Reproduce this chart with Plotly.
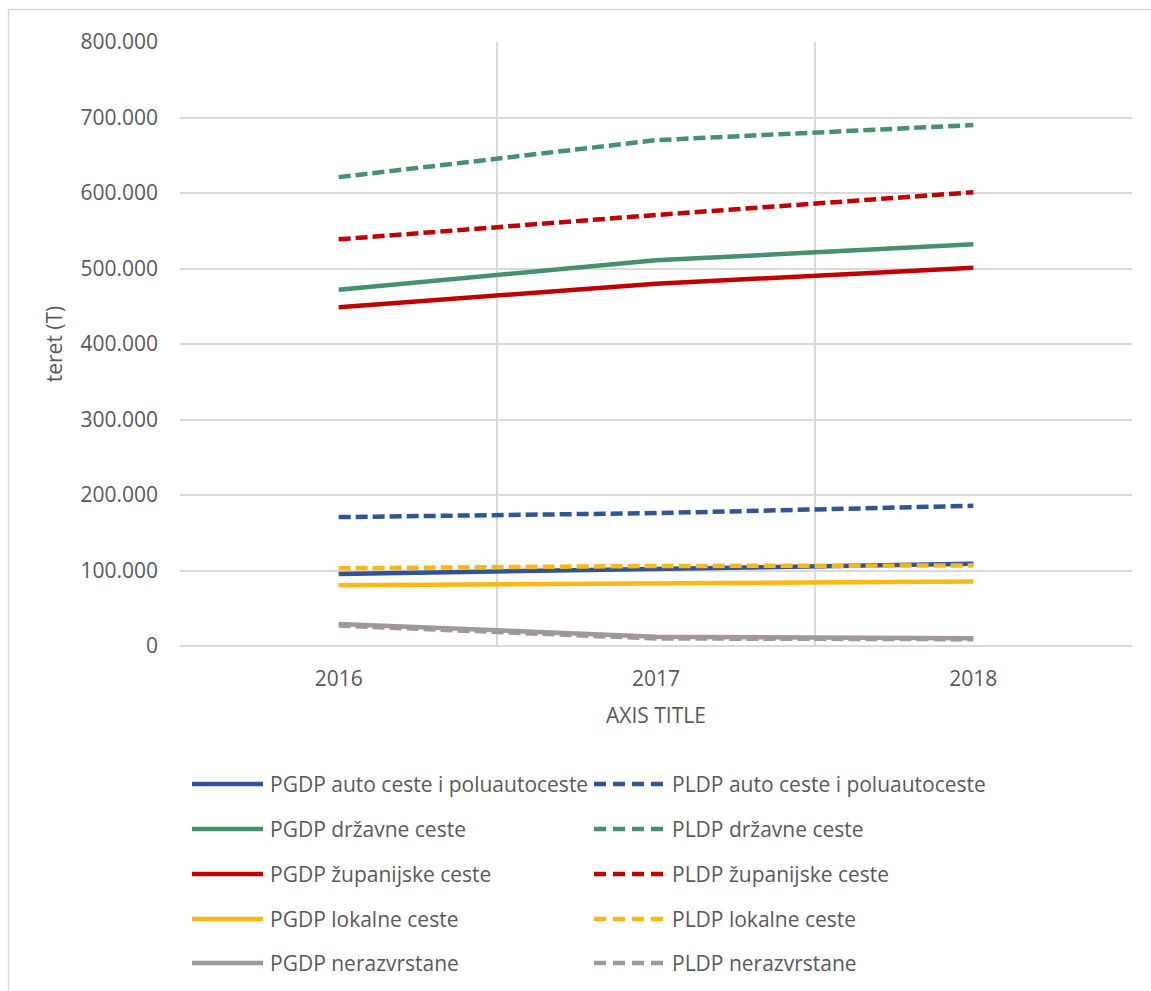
import plotly.graph_objects as go

years = ["2016", "2017", "2018"]

series_names = [
    "PGDP auto ceste i poluautoceste", "PLDP auto ceste i poluautoceste",
    "PGDP državne ceste", "PLDP državne ceste",
    "PGDP županijske ceste", "PLDP županijske ceste",
    "PGDP lokalne ceste", "PLDP lokalne ceste",
    "PGDP nerazvrstane", "PLDP nerazvrstane",
]

pgdp_auto = [95500, 101700, 108800]
pldp_auto = [170700, 176000, 185700]
pgdp_drzavne = [472000, 510800, 532000]
pldp_drzavne = [621000, 670000, 690000]
pgdp_zupanijske = [448800, 479800, 501000]
pldp_zupanijske = [538600, 570900, 601000]
pgdp_lokalne = [80500, 83600, 85300]
pldp_lokalne = [103000, 106000, 106600]
pgdp_nerazvrstane = [29200, 12400, 10200]
pldp_nerazvrstane = [27000, 10000, 9000]

series_values = [
    pgdp_auto, pldp_auto, pgdp_drzavne, pldp_drzavne,
    pgdp_zupanijske, pldp_zupanijske, pgdp_lokalne, pldp_lokalne,
    pgdp_nerazvrstane, pldp_nerazvrstane,
]

colors = ["#2F5597", "#2F5597", "#44916B", "#44916B", "#C00000", "#C00000",
          "#FBB813", "#FBB813", "#A09898", "#A09898"]
is_dashed = [False, True] * 5
PLOT_DASH = "12px,5px"
LEGEND_DASH = "12px,7px"

W, H = 1151, 991
L, R, T, B = 180, 19, 42, 345
PW, PH = W - L - R, H - T - B
TEXT = "#595959"
GRID = "#D9D9D9"
FONT = "Open Sans"
FS = 21


def px_x(x):
    return (x - L) / PW


def px_y(y):
    return (H - B - y) / PH


fig = go.Figure()
for name, vals, c, d in zip(series_names, series_values, colors, is_dashed):
    fig.add_trace(go.Scatter(
        x=years, y=vals, mode="lines", name=name,
        line=dict(color=c, width=4.5, dash=PLOT_DASH if d else "solid"),
        showlegend=False,
    ))

shapes = []
annotations = []

# outer chart border
shapes.append(dict(type="rect", xref="paper", yref="paper",
                   x0=px_x(8.5), x1=px_x(1153), y0=px_y(993), y1=px_y(9.5),
                   line=dict(color=GRID, width=1.5), layer="below"))

# manual legend (two columns, row-wise)
col_line_x = [(192, 263), (594, 665)]
col_text_x = [268, 670]
row_y = [784, 829, 874, 919, 963]
for i, (name, c, d) in enumerate(zip(series_names, colors, is_dashed)):
    r, col = divmod(i, 2)
    y = row_y[r]
    x0, x1 = col_line_x[col]
    shapes.append(dict(type="line", xref="paper", yref="paper",
                       x0=px_x(x0), x1=px_x(x1), y0=px_y(y), y1=px_y(y),
                       line=dict(color=c, width=4.5,
                                 dash=LEGEND_DASH if d else "solid")))
    annotations.append(dict(text=name, xref="paper", yref="paper",
                            x=px_x(col_text_x[col]), y=px_y(y),
                            xanchor="left", yanchor="middle", showarrow=False,
                            font=dict(family=FONT, size=FS, color=TEXT)))

fig.update_layout(
    width=W, height=H,
    margin=dict(l=L, r=R, t=T, b=B, autoexpand=False),
    paper_bgcolor="white", plot_bgcolor="white",
    separators=",.",
    font=dict(family=FONT, color=TEXT),
    shapes=shapes, annotations=annotations,
    xaxis=dict(
        type="category", tickson="boundaries", showgrid=True,
        gridcolor=GRID, gridwidth=1.5, showline=False, zeroline=False,
        ticks="", tickfont=dict(family=FONT, size=FS, color=TEXT),
        ticklabelstandoff=18,
        title=dict(text="AXIS TITLE", font=dict(family=FONT, size=FS, color=TEXT),
                   standoff=17),
        range=[-0.5, 2.5],
    ),
    yaxis=dict(
        range=[0, 800000], dtick=100000, tick0=0, tickformat=",.0f",
        showgrid=True, gridcolor=GRID, gridwidth=1.5,
        zeroline=True, zerolinecolor=GRID, zerolinewidth=1.5,
        showline=False, ticks="",
        tickfont=dict(family=FONT, size=FS, color=TEXT),
        ticklabelstandoff=21,
        title=dict(text="teret (T)", font=dict(family=FONT, size=FS, color=TEXT),
                   standoff=12),
    ),
)

fig.write_html("out.html",
               config={"displayModeBar": False},
               post_script="document.body.style.margin='0';")
